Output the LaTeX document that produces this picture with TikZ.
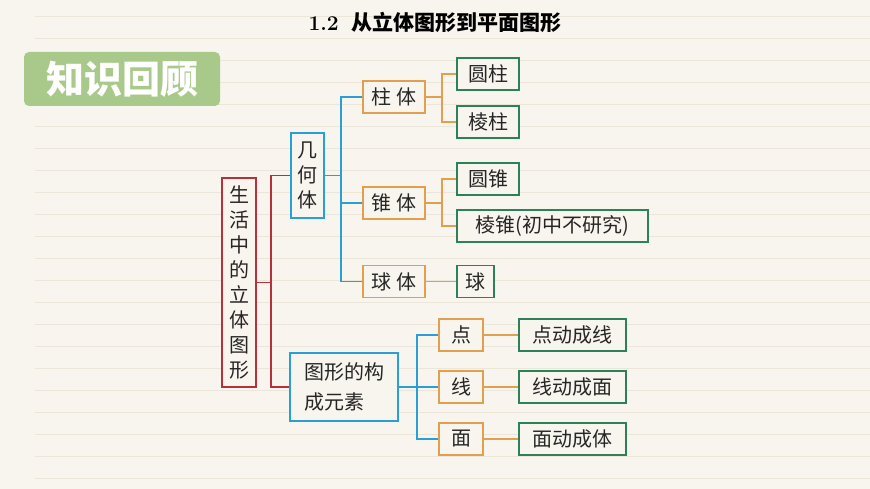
\documentclass[tikz,border=0pt]{standalone}
\usepackage{fontspec}
\newfontfamily\cjk{Noto Sans CJK SC}
\definecolor{paper}{HTML}{F8F5EE}
\definecolor{rline}{HTML}{ECE6DA}
\definecolor{cred}{HTML}{B8303A}
\definecolor{cblue}{HTML}{2A9FD6}
\definecolor{corange}{HTML}{E0A050}
\definecolor{cgreen}{HTML}{2E8058}
\definecolor{cbadge}{HTML}{A8C98A}
\begin{document}
\begin{tikzpicture}[x=1pt,y=-1pt,
  bx/.style={draw,line width=1.4pt,fill=paper,inner sep=0pt,font=\cjk\fontsize{20}{25}\selectfont,text=black!85,align=center},
  rbox/.style={bx,draw=cred},
  bbox/.style={bx,draw=cblue},
  obox/.style={bx,draw=corange},
  gbox/.style={bx,draw=cgreen},
  rl/.style={draw=cred,line width=1.4pt},
  bl/.style={draw=cblue,line width=1.4pt},
  ol/.style={draw=corange,line width=1.4pt}]
\fill[paper] (0,0) rectangle (870,489);
\useasboundingbox (0,0) rectangle (870,489);
\foreach \y in {16,38,...,489} \draw[rline,line width=0.6pt] (35,\y) -- (870,\y);
\node (title) at (435,22) {\fontsize{21}{24}\selectfont\textbf{1.2}\ \ {\cjk\bfseries 从立体图形到平面图形}};
\node[fill=cbadge,rounded corners=5pt,minimum width=196pt,minimum height=54pt,text=white,font=\cjk\bfseries\fontsize{38}{40}\selectfont] (badge) at (122,79) {知识回顾};
% boxes
\node[rbox,minimum width=34pt,minimum height=209pt] (root) at (239,282.5) {生\\活\\中\\的\\立\\体\\图\\形};
\node[bbox,minimum width=33pt,minimum height=85pt] (jh) at (307.5,175.5) {几\\何\\体};
\node[bbox,minimum width=108pt,minimum height=68pt,font=\cjk\fontsize{20}{30}\selectfont] (tx) at (344,387) {图形的构\\成元素\hspace*{1em}};
\node[obox,minimum width=62pt,minimum height=32pt] (zt) at (394,97) {柱 体};
\node[obox,minimum width=62pt,minimum height=32pt] (dt) at (394,203) {锥 体};
\node[obox,minimum width=62pt,minimum height=32pt] (qt) at (394,281.5) {球 体};
\node[gbox,minimum width=62pt,minimum height=32pt] (yz) at (488,74) {圆柱};
\node[gbox,minimum width=62pt,minimum height=32pt] (lz) at (488,122) {棱柱};
\node[gbox,minimum width=62pt,minimum height=32pt] (yd) at (488,179) {圆锥};
\node[gbox,minimum width=191pt,minimum height=32pt] (ld) at (552.5,226) {棱锥(初中不研究)};
\node[gbox,minimum width=37pt,minimum height=32pt] (q) at (475.5,281.5) {球};
\node[obox,minimum width=44pt,minimum height=32pt] (d) at (461,335) {点};
\node[obox,minimum width=44pt,minimum height=32pt] (x) at (461,387) {线};
\node[obox,minimum width=44pt,minimum height=32pt] (m) at (461,439) {面};
\node[gbox,minimum width=107pt,minimum height=32pt] (d2) at (572.5,335) {点动成线};
\node[gbox,minimum width=107pt,minimum height=32pt] (x2) at (572.5,387) {线动成面};
\node[gbox,minimum width=107pt,minimum height=32pt] (m2) at (572.5,439) {面动成体};
% connectors
\draw[rl] (root.east) -- (271,282.5);
\draw[rl] (jh.west) -| (271,282.5) |- (tx.west);
\draw[bl] (jh.east) -- (341,175.5);
\draw[bl] (zt.west) -| (341,175.5);
\draw[bl] (dt.west) -| (341,175.5);
\draw[bl] (qt.west) -| (341,175.5);
\draw[ol] (zt.east) -- (442,97);
\draw[ol] (yz.west) -| (442,97) |- (lz.west);
\draw[ol] (dt.east) -- (442,203);
\draw[ol] (yd.west) -| (442,203) |- (ld.west);
\draw[ol] (qt.east) -- (q.west);
\draw[bl] (tx.east) -- (417,387);
\draw[bl] (d.west) -| (417,387) |- (m.west);
\draw[bl] (x.west) -- (417,387);
\draw[ol] (d.east) -- (d2.west);
\draw[ol] (x.east) -- (x2.west);
\draw[ol] (m.east) -- (m2.west);
\end{tikzpicture}
\end{document}
